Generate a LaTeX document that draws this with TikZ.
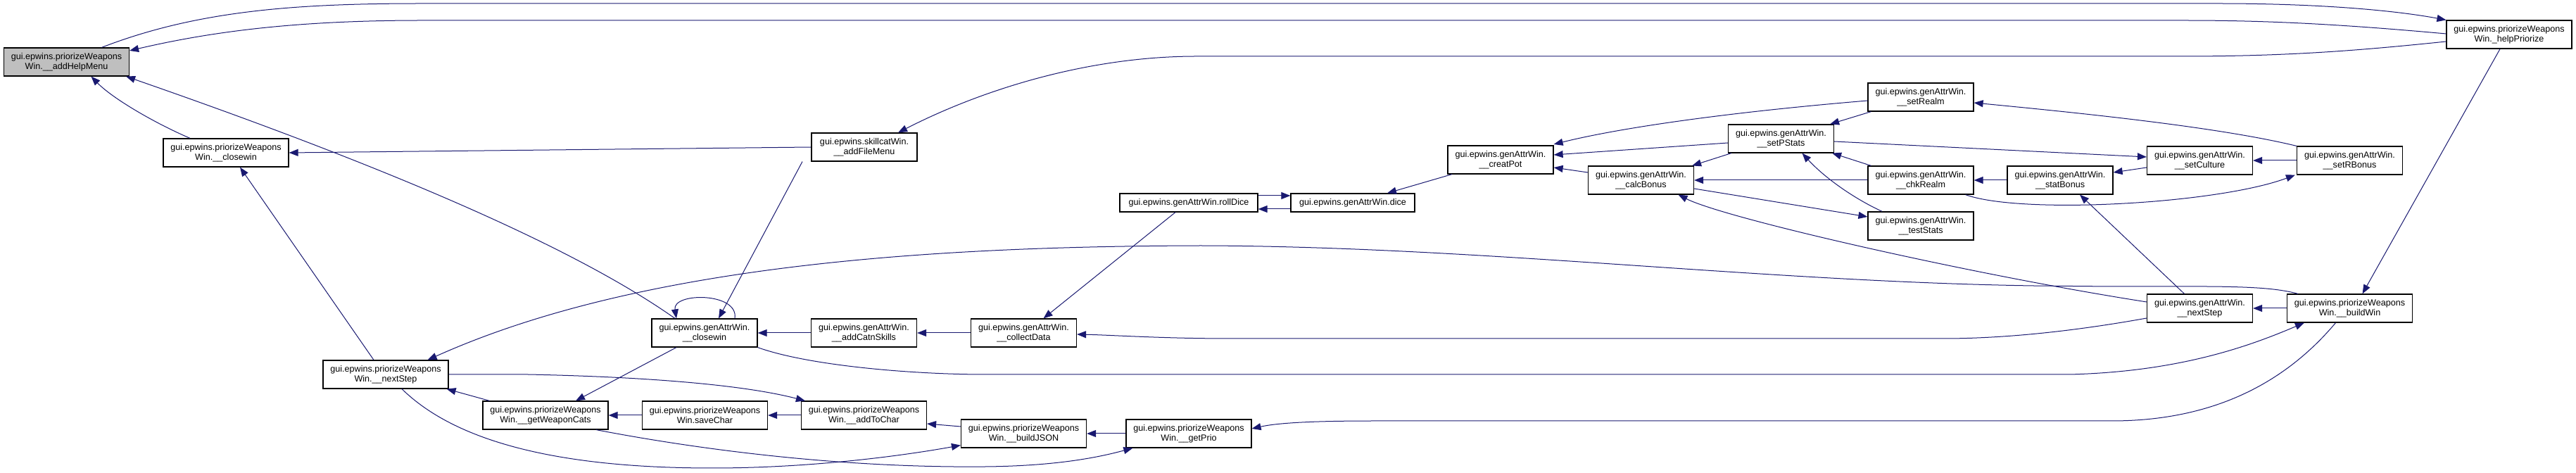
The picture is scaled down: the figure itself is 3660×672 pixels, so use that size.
\documentclass[tikz,border=0pt]{standalone}
\usepackage{fontspec}
\setmainfont{Liberation Sans}
\usepackage{tikz}
\usetikzlibrary{arrows.meta,calc}
\definecolor{edgeblue}{RGB}{25,25,112}
\definecolor{rootgrey}{RGB}{191,191,191}
\tikzset{
  fn/.style={rectangle, draw=black, fill=white, line width=0.6pt, align=center, inner sep=0pt,
    font=\fontsize{6.3pt}{7.15pt}\selectfont, minimum height=20pt},
  pwbox/.style={fn, minimum width=89pt},
  gabox/.style={fn, minimum width=75pt},
  onebox/.style={fn, minimum height=13pt},
  rootbox/.style={pwbox, fill=rootgrey},
  call/.style={-{Triangle[length=6.5pt,width=5pt]}, line width=0.5pt, draw=edgeblue},
}
\begin{document}
\begin{tikzpicture}[x=0.5pt,y=-0.5pt]
  \useasboundingbox (0,0) rectangle (3660,672);
  % nodes (pixel positions of the graph)
  \node[rootbox] (help) at (94.5,88) {gui.epwins.priorizeWeapons\\Win.\_\_addHelpMenu};
  \node[pwbox] (pwclose) at (321,217) {gui.epwins.priorizeWeapons\\Win.\_\_closewin};
  \node[pwbox] (pwnext) at (548,532) {gui.epwins.priorizeWeapons\\Win.\_\_nextStep};
  \node[gabox] (filemenu) at (1228,209) {gui.epwins.skillcatWin.\\\_\_addFileMenu};
  \node[gabox] (gaclose) at (1001,473) {gui.epwins.genAttrWin.\\\_\_closewin};
  \node[gabox] (catn) at (1227.5,473) {gui.epwins.genAttrWin.\\\_\_addCatnSkills};
  \node[gabox] (collect) at (1454.5,473) {gui.epwins.genAttrWin.\\\_\_collectData};
  \node[pwbox] (weapcats) at (775,590) {gui.epwins.priorizeWeapons\\Win.\_\_getWeaponCats};
  \node[pwbox] (savechar) at (1001.5,590) {gui.epwins.priorizeWeapons\\Win.saveChar};
  \node[pwbox] (tochar) at (1227.5,590) {gui.epwins.priorizeWeapons\\Win.\_\_addToChar};
  \node[pwbox] (json) at (1454.5,616) {gui.epwins.priorizeWeapons\\Win.\_\_buildJSON};
  \node[pwbox] (prio) at (1689,616) {gui.epwins.priorizeWeapons\\Win.\_\_getPrio};
  \node[onebox, minimum width=98pt] (rolldice) at (1689,288) {gui.epwins.genAttrWin.rollDice};
  \node[onebox, minimum width=88pt] (dice) at (1922,288) {gui.epwins.genAttrWin.dice};
  \node[gabox] (creatpot) at (2132,227) {gui.epwins.genAttrWin.\\\_\_creatPot};
  \node[gabox] (calcbonus) at (2331.5,256) {gui.epwins.genAttrWin.\\\_\_calcBonus};
  \node[gabox] (setpstats) at (2530.5,197) {gui.epwins.genAttrWin.\\\_\_setPStats};
  \node[gabox] (setrealm) at (2729,138) {gui.epwins.genAttrWin.\\\_\_setRealm};
  \node[gabox] (chkrealm) at (2729,256) {gui.epwins.genAttrWin.\\\_\_chkRealm};
  \node[gabox] (teststats) at (2729,321) {gui.epwins.genAttrWin.\\\_\_testStats};
  \node[gabox] (statbonus) at (2927,256) {gui.epwins.genAttrWin.\\\_\_statBonus};
  \node[gabox] (setculture) at (3125.5,228) {gui.epwins.genAttrWin.\\\_\_setCulture};
  \node[gabox] (setrbonus) at (3338.5,228) {gui.epwins.genAttrWin.\\\_\_setRBonus};
  \node[gabox] (gnext) at (3125.5,438) {gui.epwins.genAttrWin.\\\_\_nextStep};
  \node[pwbox] (buildwin) at (3338.5,438) {gui.epwins.priorizeWeapons\\Win.\_\_buildWin};
  \node[pwbox] (helpprio) at (3565,49) {gui.epwins.priorizeWeapons\\Win.\_helpPriorize};
  % long edges across the top
  \draw[call] ($(help.north)+(50,0)$) .. controls (280,15) and (420,5) .. (600,5) -- (3150,5) .. controls (3320,5) and (3420,18) .. (helpprio.north west);
  \draw[call] ($(helpprio.west)+(0,-1)$) .. controls (3300,32) and (3200,29) .. (3100,29) -- (600,29) .. controls (420,29) and (300,45) .. ($(help.east)+(0,-16)$);
  \draw[call] ($(helpprio.west)+(0,10)$) .. controls (3350,72) and (3250,80) .. (3100,80) -- (1700,80) .. controls (1550,80) and (1400,125) .. ($(filemenu.north)+(48,0)$);
  % left part
  \draw[call] (filemenu.west) -- (pwclose.east);
  \draw[call] ($(pwclose.north)+(-51,0)$) .. controls (220,175) and (160,140) .. ($(help.south)+(35,0)$);
  \draw[call] ($(pwnext.north)+(-17,0)$) -- ($(pwclose.south)+(20,0)$);
  \draw[call] ($(gaclose.north)+(-42,0)$) .. controls (800,340) and (500,220) .. ($(help.south east)+(-5,0)$);
  \draw[call] ($(gaclose.north)+(43,0)$) .. controls (1050,415) and (955,415) .. ($(gaclose.north)+(-40,0)$);
  \draw[call] ($(filemenu.south)+(-88,0)$) -- ($(gaclose.north)+(20,0)$);
  \draw[call] ($(gaclose.south)+(-40,0)$) -- ($(weapcats.north)+(43,0)$);
  \draw[call] (catn) -- (gaclose);
  \draw[call] (collect) -- (catn);
  \draw[call] (gaclose.south east) .. controls (1150,520) and (1300,532) .. (1400,532) -- (2940,532) .. controls (3100,528) and (3200,490) .. ($(buildwin.south west)+(25,0)$);
  % dice group
  \draw[call] ($(rolldice.east)+(0,-10)$) -- ($(dice.west)+(0,-10)$);
  \draw[call] ($(dice.west)+(0,9)$) -- ($(rolldice.east)+(0,9)$);
  \draw[call] ($(creatpot.south)+(-69,0)$) -- ($(dice.north)+(49,0)$);
  \draw[call] ($(rolldice.south)+(-19,0)$) -- ($(collect.north)+(28,0)$);
  % stats group
  \draw[call] ($(setrealm.west)+(0,5)$) .. controls (2450,160) and (2300,182) .. ($(creatpot.east)+(0,-22)$);
  \draw[call] ($(setpstats.west)+(0,6)$) -- ($(creatpot.east)+(0,-7)$);
  \draw[call] ($(calcbonus.west)+(0,-11)$) -- ($(creatpot.east)+(0,11)$);
  \draw[call] ($(setpstats.south west)+(5,0)$) -- ($(calcbonus.north east)+(-3,0)$);
  \draw[call] ($(setrealm.south west)+(5,0)$) -- ($(setpstats.north east)+(-6,0)$);
  \draw[call] ($(chkrealm.north west)+(5,0)$) -- ($(setpstats.south east)+(-3,0)$);
  \draw[call] (chkrealm) -- (calcbonus);
  \draw[call] (statbonus) -- (chkrealm);
  \draw[call] ($(calcbonus.east)+(0,12)$) -- ($(teststats.west)+(0,-13)$);
  \draw[call] ($(teststats.north)+(-55,0)$) .. controls (2630,280) and (2590,250) .. ($(setpstats.south)+(30,0)$);
  \draw[call] ($(setpstats.east)+(0,4)$) -- ($(setculture.west)+(0,-5)$);
  \draw[call] ($(setculture.west)+(0,10)$) -- ($(statbonus.east)+(0,-11)$);
  \draw[call] (setrbonus) -- (setculture);
  \draw[call] (setrbonus.north west) .. controls (3150,180) and (2950,160) .. ($(setrealm.east)+(0,8)$);
  \draw[call] ($(chkrealm.south east)+(-12,0)$) .. controls (2870,305) and (3150,290) .. ($(setrbonus.south west)+(-2,0)$);
  % right part
  \draw[call] ($(gnext.north)+(-22,0)$) -- ($(statbonus.south)+(28,0)$);
  \draw[call] ($(gnext.west)+(0,-9)$) .. controls (2800,390) and (2450,310) .. ($(calcbonus.south)+(53,0)$);
  \draw[call] ($(gnext.west)+(0,14)$) .. controls (2950,470) and (2850,481) .. (2761,481) -- (1750,481) .. controls (1650,481) and (1580,476) .. ($(collect.east)+(0,2)$);
  \draw[call] ($(buildwin.north west)+(16,0)$) .. controls (3220,405) and (3150,407) .. (3000,407) -- (2889,406) .. controls (2500,400) and (2100,350) .. (1706,349) .. controls (1300,350) and (900,380) .. ($(pwnext.north east)+(-30,0)$);
  \draw[call] (buildwin) -- (gnext);
  \draw[call] ($(helpprio.south)+(-13,0)$) -- ($(buildwin.north)+(18,0)$);
  % bottom rows
  \draw[call] (pwnext.east) -- (750,532) .. controls (900,535) and (1050,545) .. ($(tochar.north west)+(6,0)$);
  \draw[call] ($(weapcats.north west)+(10,0)$) -- ($(pwnext.south east)+(-3,0)$);
  \draw[call] (savechar) -- (weapcats);
  \draw[call] (tochar) -- (savechar);
  \draw[call] ($(json.west)+(0,-10)$) -- ($(tochar.east)+(0,12)$);
  \draw[call] ($(pwnext.south)+(23,0)$) .. controls (650,630) and (800,665) .. (1012,665) .. controls (1150,665) and (1280,648) .. ($(json.south west)+(0,-4)$);
  \draw[call] ($(weapcats.south)+(72,0)$) .. controls (1000,640) and (1200,665) .. (1400,663) .. controls (1500,662) and (1560,650) .. ($(prio.south west)+(10,0)$);
  \draw[call] ($(buildwin.south)+(-20,0)$) .. controls (3250,540) and (3150,598) .. (3000,598) -- (1950,598) .. controls (1850,598) and (1810,602) .. ($(prio.east)+(0,-7)$);
  \draw[call] (prio) -- (json);
\end{tikzpicture}
\end{document}
